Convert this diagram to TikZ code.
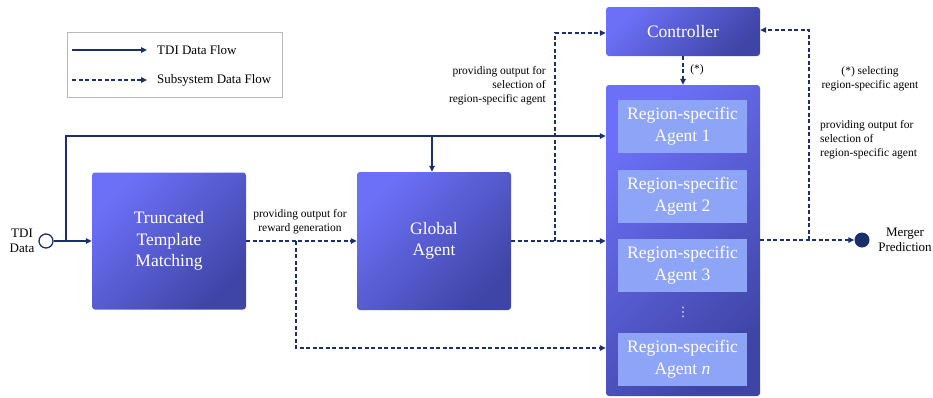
\documentclass[tikz,border=0pt]{standalone}
\usepackage{fontspec}
\setmainfont{Liberation Serif}
\newfontfamily\tnr{Liberation Serif}
\newfontfamily\dejavu{DejaVu Sans}
\usetikzlibrary{arrows.meta}
\definecolor{navy}{HTML}{1B2F6B}
\definecolor{blueL}{HTML}{6C70F8}
\definecolor{blueD}{HTML}{3F45A6}
\definecolor{innerB}{HTML}{8EA4F6}
\begin{document}
\begin{tikzpicture}[x=1pt,y=-1pt,
 flow/.style={navy, line width=1.4pt, -{Triangle[length=6pt,width=5.5pt]}},
 sub/.style={flow, dash pattern=on 4pt off 2.5pt},
 box/.style={rounded corners=3pt, top color=blueL, bottom color=blueD, shading angle=45, draw=none, text=white, align=center, font=\tnr\fontsize{17.5}{21.5}\selectfont, inner sep=0pt},
 agentbox/.style={fill=innerB, draw=none, text=white, align=center, font=\tnr\fontsize{17.5}{22}\selectfont, minimum width=129pt, minimum height=53pt, inner sep=0pt},
 lab/.style={font=\tnr\fontsize{11.5}{14}\selectfont, text=black, inner sep=0pt},
 leglab/.style={font=\tnr\fontsize{13}{15}\selectfont, text=black, inner sep=0pt, anchor=west},
]
\useasboundingbox (0,0) rectangle (933,397);

% legend
\node[draw=gray!55, line width=0.7pt, minimum width=215pt, minimum height=65pt, inner sep=0pt] (leg) at (174.5,64.5) {};
\coordinate (l1a) at (72,50); \coordinate (l1b) at (147,50);
\coordinate (l2a) at (72,80); \coordinate (l2b) at (147,80);
\draw[flow] (l1a) -- (l1b);
\draw[sub] (l2a) -- (l2b);
\node[leglab] (l1t) at (157,50) {TDI Data Flow};
\node[leglab] (l2t) at (157,80) {Subsystem Data Flow};

% boxes
\node[box, minimum width=154pt, minimum height=137pt] (ttm) at (169,241) {Truncated\\Template\\Matching};
\node[box, minimum width=154pt, minimum height=138pt] (ga) at (434,241) {Global\\Agent};
\node[box, minimum width=154pt, minimum height=49pt] (ctrl) at (683,31.5) {Controller};
\node[box, minimum width=154pt, minimum height=311pt] (big) at (683,240.5) {};
\node[agentbox] (a1) at (682.5,126.5) {Region-specific\\Agent 1};
\node[agentbox] (a2) at (682.5,196) {Region-specific\\Agent 2};
\node[agentbox] (a3) at (682.5,265) {Region-specific\\Agent 3};
\node[agentbox] (an) at (682.5,359) {Region-specific\\Agent \textit{n}};
\node[text=white!80!innerB, font=\dejavu\fontsize{13}{13}\selectfont, inner sep=0pt] (dots) at (683,312) {⋮};

% in / out circles
\node[circle, draw=navy, fill=white, line width=1.3pt, minimum size=14pt, inner sep=0pt] (tdi) at (46,241) {};
\node[lab, font=\tnr\fontsize{13}{15.5}\selectfont, align=center] (tdil) at (22,241) {TDI\\Data};
\node[circle, fill=navy, minimum size=15pt, inner sep=0pt] (mp) at (862,240) {};
\node[lab, font=\tnr\fontsize{13}{15}\selectfont, align=center] (mpl) at (905,240) {Merger\\Prediction};

% TDI data flow
\coordinate (s1) at (66,241);
\coordinate (s2) at (66,136);
\coordinate (s3) at (432,136);
\draw[flow] (tdi.east) -- (ttm.west |- tdi);
\draw[flow] (s1) -- (s2) -- (big.west |- s2);
\draw[flow] (s3) -- (ga.north -| s3);

% subsystem flow
\draw[sub] (ttm.east) -- (ga.west);
\node[lab, align=center] (lab1) at (300,221.5) {providing output for\\reward generation};
\coordinate (d1) at (296,241);
\coordinate (d2) at (296,348);
\draw[sub] (d1) -- (d2) -- (big.west |- d2);

\draw[sub] (ga.east) -- (big.west |- ga.east);
\coordinate (c1) at (555,241);
\coordinate (c2) at (555,33);
\draw[sub] (c1) -- (c2) -- (ctrl.west |- c2);
\node[lab, align=right, anchor=east] (lab2) at (546,85.5) {providing output for\\selection of\\region-specific agent};

\draw[sub] (ctrl.south) -- (big.north);
\node[lab] (star) at (697,70) {(*)};

\draw[sub] (big.east |- mp) -- (mp.west);
\coordinate (e1) at (809,240);
\coordinate (e2) at (809,30);
\draw[sub] (e1) -- (e2) -- (ctrl.east |- e2);
\node[lab, align=center] (lab3) at (870,78.5) {(*) selecting\\region-specific agent};
\node[lab, align=left, anchor=west] (lab4) at (820,139.5) {providing output for\\selection of\\region-specific agent};
\end{tikzpicture}
\end{document}
